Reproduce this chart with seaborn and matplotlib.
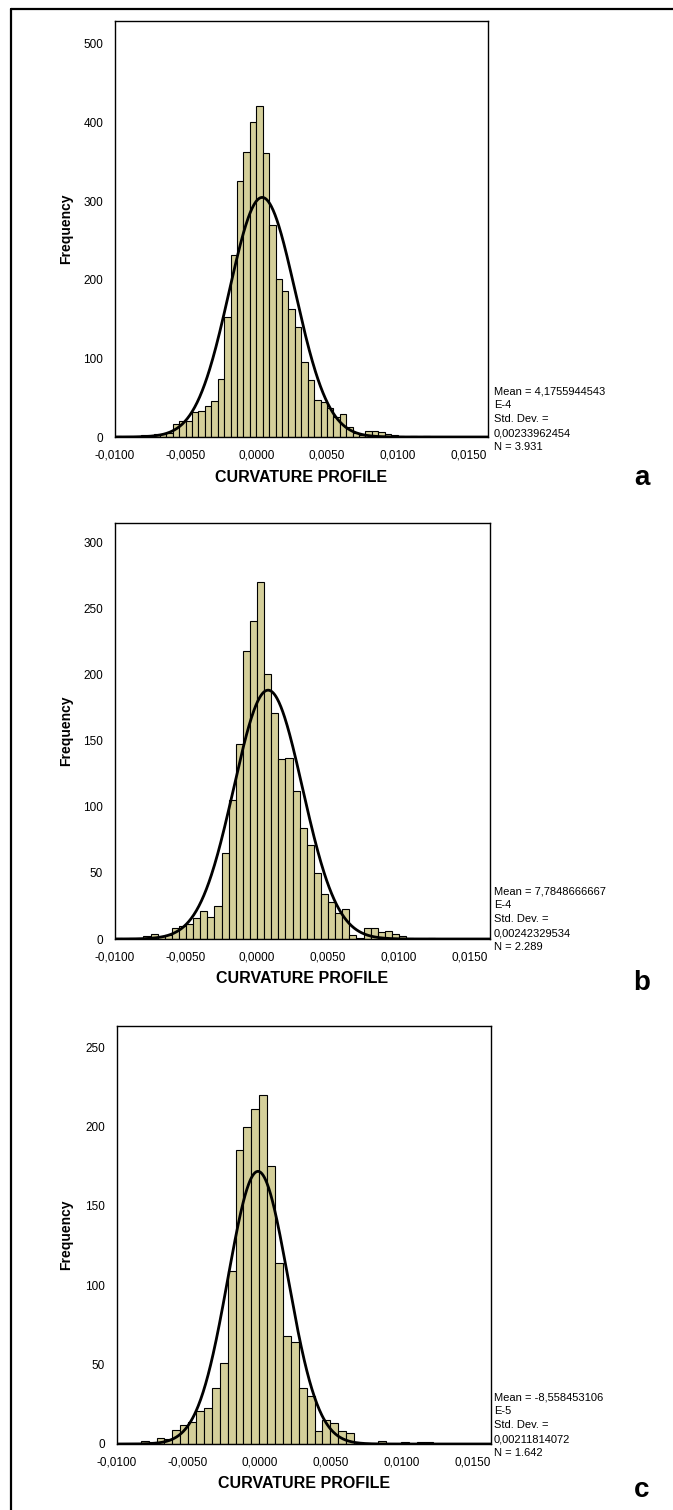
import numpy as np
import pandas as pd
import matplotlib
matplotlib.use("Agg")
import matplotlib.pyplot as plt
import seaborn as sns
from matplotlib.lines import Line2D

# ---------------- data ----------------
# bin widths (data units) and index of the first bin (bin k covers [k*w, (k+1)*w))
bin_width_a = 0.005 / 11
bin_width_b = 0.0005
bin_width_c = 0.005 / 9
first_bin_a = -22
first_bin_b = -20
first_bin_c = -18

counts_a = [1, 0, 0, 1, 3, 2, 4, 4, 5, 16, 20, 20, 32, 33, 39, 46, 74, 153, 231, 326,
            363, 400, 421, 361, 269, 201, 186, 163, 140, 96, 72, 47, 44, 37, 25, 29,
            13, 5, 2, 8, 7, 6, 4, 3, 1, 0, 1, 0, 1]
counts_b = [1, 0, 1, 1, 2, 4, 2, 3, 8, 10, 11, 16, 21, 17, 25, 65, 105, 148, 218, 241,
            270, 201, 171, 136, 137, 112, 84, 71, 50, 34, 28, 20, 23, 3, 1, 8, 8, 5, 6,
            4, 2, 1, 0, 0, 1]
counts_c = [0, 0, 0, 2, 1, 4, 3, 9, 12, 14, 21, 23, 35, 51, 109, 185, 200, 211, 220,
            175, 114, 68, 64, 35, 30, 8, 15, 13, 8, 7, 0, 0, 0, 2, 0, 0, 1, 0, 1, 1]

mean_a, sd_a, n_a = 4.1755944543e-4, 0.00233962454, 3931
mean_b, sd_b, n_b = 7.7848666667e-4, 0.00242329534, 2289
mean_c, sd_c, n_c = -8.558453106e-5, 0.00211814072, 1642

stats_a = ["Mean = 4,1755944543", "E-4", "Std. Dev. =", "0,00233962454", "N = 3.931"]
stats_b = ["Mean = 7,7848666667", "E-4", "Std. Dev. =", "0,00242329534", "N = 2.289"]
stats_c = ["Mean = -8,558453106", "E-5", "Std. Dev. =", "0,00211814072", "N = 1.642"]

panel_letters = ["a", "b", "c"]
x_ticks = [-0.0100, -0.0050, 0.0, 0.0050, 0.0100, 0.0150]
x_tick_labels = ["-0,0100", "-0,0050", "0,0000", "0,0050", "0,0100", "0,0150"]
y_ticks_a = [0, 100, 200, 300, 400, 500]
y_ticks_b = [0, 50, 100, 150, 200, 250, 300]
y_ticks_c = [0, 50, 100, 150, 200, 250]
x_label = "CURVATURE PROFILE"
y_label = "Frequency"

# ---------------- style ----------------
sns.set_style("white")
plt.rcParams["font.family"] = ["Liberation Sans", "DejaVu Sans"]
plt.rcParams["axes.edgecolor"] = "black"
plt.rcParams["axes.linewidth"] = 1.0
plt.rcParams["text.color"] = "black"
plt.rcParams["xtick.color"] = "black"
plt.rcParams["ytick.color"] = "black"
plt.rcParams["axes.labelcolor"] = "black"

W, H = 673, 1510
fig = plt.figure(figsize=(W / 100, H / 100), dpi=100)
fig.patch.set_facecolor("white")


def fx(px):
    return px / W


def fy(py):
    return 1 - py / H


BAR = "#D4CF9A"

panels = [
    dict(counts=counts_a, w=bin_width_a, k0=first_bin_a, mean=mean_a, sd=sd_a, n=n_a,
         stats=stats_a, yt=y_ticks_a, box=(115, 488, 21, 437), xlim=(-0.0100, 0.0164),
         ylim=(0, 529), stat_y=391, letter_y=478),
    dict(counts=counts_b, w=bin_width_b, k0=first_bin_b, mean=mean_b, sd=sd_b, n=n_b,
         stats=stats_b, yt=y_ticks_b, box=(115, 490, 523, 939), xlim=(-0.0100, 0.0164),
         ylim=(0, 315), stat_y=891, letter_y=983),
    dict(counts=counts_c, w=bin_width_c, k0=first_bin_c, mean=mean_c, sd=sd_c, n=n_c,
         stats=stats_c, yt=y_ticks_c, box=(117, 491, 1026, 1444), xlim=(-0.0100, 0.0163),
         ylim=(0, 263.4), stat_y=1397, letter_y=1490),
]

for i, p in enumerate(panels):
    l, r, t, b = p["box"]
    ax = fig.add_axes([fx(l), fy(b), (r - l) / W, (b - t) / H])
    ax.set_facecolor("white")
    counts = np.array(p["counts"], dtype=float)
    edges = p["w"] * (p["k0"] + np.arange(len(counts) + 1))
    centers = (edges[:-1] + edges[1:]) / 2
    df = pd.DataFrame({"x": centers, "cnt": counts})
    sns.histplot(data=df, x="x", weights="cnt", bins=[float(e) for e in edges], color=BAR,
                 edgecolor="black", linewidth=0.8, alpha=1.0, ax=ax)
    # fitted normal curve from the panel's mean, std. dev. and N
    xs = np.linspace(p["xlim"][0], p["xlim"][1], 600)
    ys = p["n"] * p["w"] / (p["sd"] * np.sqrt(2 * np.pi)) * np.exp(-0.5 * ((xs - p["mean"]) / p["sd"]) ** 2)
    sns.lineplot(x=xs, y=ys, color="black", linewidth=2.0, ax=ax)

    ax.set_xlim(*p["xlim"])
    ax.set_ylim(*p["ylim"])
    ax.set_xticks(x_ticks)
    ax.set_xticklabels(x_tick_labels, fontsize=8.5)
    ax.set_yticks(p["yt"])
    ax.set_yticklabels([str(v) for v in p["yt"]], fontsize=8.5)
    ax.tick_params(axis="x", direction="out", length=6, width=1.0, pad=3, colors="black")
    ax.tick_params(axis="y", direction="out", length=7, width=1.0, pad=1.5, colors="black")
    ax.set_xlabel("")
    ax.set_ylabel("")
    for s in ax.spines.values():
        s.set_visible(True)
        s.set_color("black")
        s.set_linewidth(1.0)

    # labels
    fig.text(fx(66), fy((t + b) / 2), y_label, rotation=90, ha="center", va="center",
             fontsize=10, fontweight="bold")
    fig.text(fx((l + r) / 2), fy(b + 40), x_label, ha="center", va="center",
             fontsize=11.5, fontweight="bold")
    for j, line in enumerate(p["stats"]):
        fig.text(fx(494), fy(p["stat_y"] + j * 14), line, ha="left", va="center",
                 fontsize=8)
    fig.text(fx(642), fy(p["letter_y"]), panel_letters[i], ha="center", va="center",
             fontsize=20, fontweight="bold")

# outer frame (left and top edges only are inside the picture)
fig.lines.append(Line2D([fx(11), fx(11)], [0, fy(9)], transform=fig.transFigure,
                        color="black", linewidth=1.6))
fig.lines.append(Line2D([fx(11), 1], [fy(9), fy(9)], transform=fig.transFigure,
                        color="black", linewidth=1.6))

fig.savefig("out.png", dpi=100, facecolor="white")
